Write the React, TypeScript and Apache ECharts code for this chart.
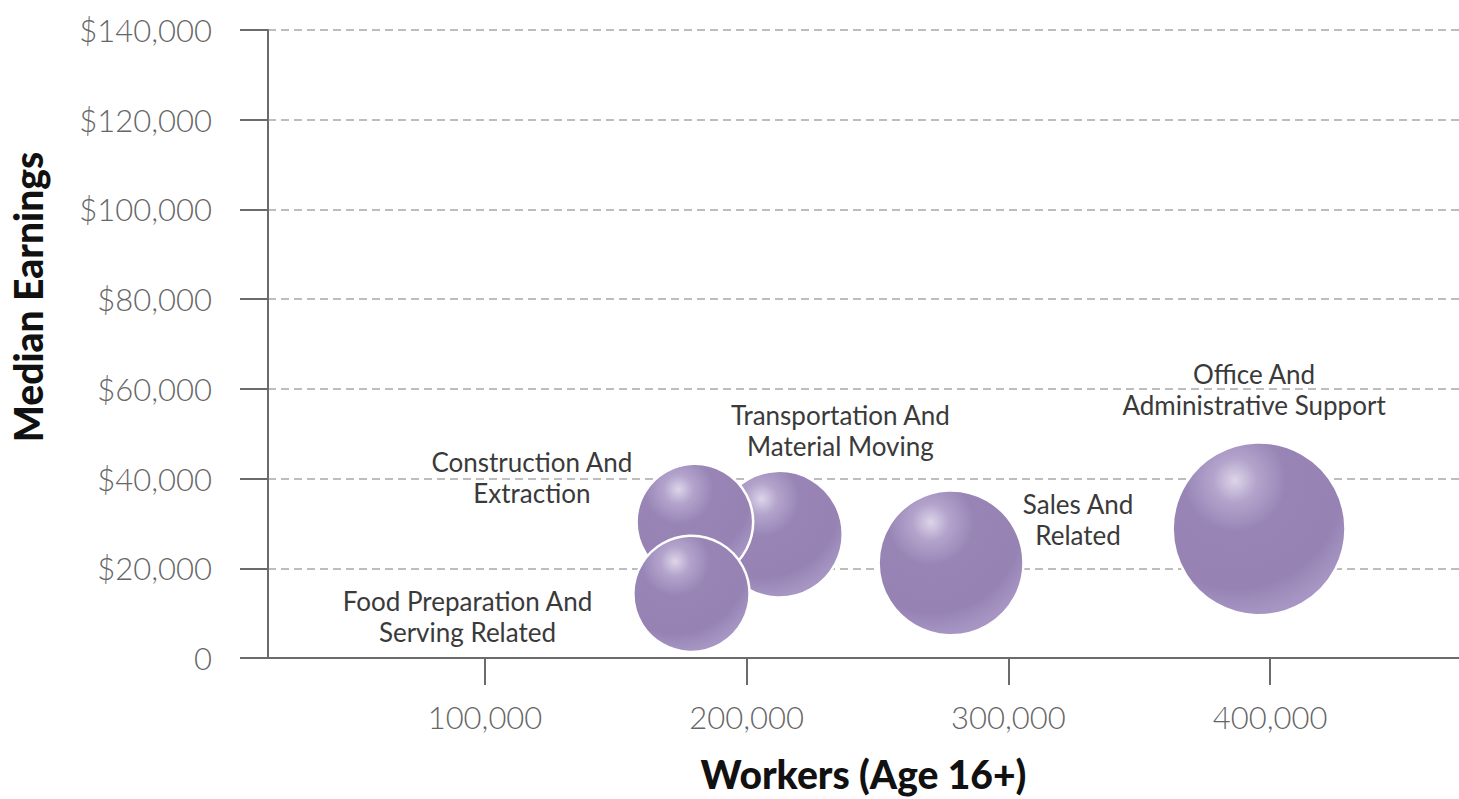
import React, { useEffect, useRef } from "react";
import * as echarts from "echarts";

const occupations = [
  "Transportation And\nMaterial Moving",
  "Construction And\nExtraction",
  "Food Preparation And\nServing Related",
  "Sales And\nRelated",
  "Office And\nAdministrative Support",
];
const workers = [212500, 180200, 178900, 278100, 395800];
const medianEarnings = [27600, 30300, 14300, 21200, 28800];
const labelOffsets: [number, number][] = [
  [61, -104],
  [-163, -45],
  [-224, 23],
  [127, -43],
  [-5, -139],
];
const xTicks = [100000, 200000, 300000, 400000];

const FONT = "Lato, 'Open Sans', sans-serif";

export default function App() {
  const ref = useRef<HTMLDivElement>(null);
  useEffect(() => {
    if (!ref.current) return;
    const chart = echarts.init(ref.current, null, { renderer: "svg" });
    const bubbleFill = new echarts.graphic.RadialGradient(0.36, 0.22, 0.78, [
      { offset: 0, color: "#ddd5e9" },
      { offset: 0.16, color: "#b3a4cc" },
      { offset: 0.38, color: "#9885b6" },
      { offset: 0.8, color: "#9683b4" },
      { offset: 1, color: "#a796c4" },
    ]);
    const data = occupations.map((name, i) => ({
      name,
      value: [workers[i], medianEarnings[i]],
      label: { offset: labelOffsets[i] },
    }));
    chart.setOption({
      animation: false,
      grid: { left: 268, right: 0, top: 30, bottom: 141, containLabel: false },
      xAxis: {
        type: "value",
        min: 17080,
        max: 472200,
        name: "Workers (Age 16+)",
        nameLocation: "middle",
        nameGap: 96,
        nameTextStyle: { fontFamily: FONT, fontWeight: 900, fontSize: 39, color: "#111", verticalAlign: "top" },
        axisLine: { show: true, onZero: false, lineStyle: { color: "#6b6b6b", width: 2 } },
        axisTick: { show: true, length: 27, customValues: xTicks, lineStyle: { color: "#6b6b6b", width: 2 } },
        axisLabel: {
          customValues: xTicks,
          margin: 43,
          fontFamily: FONT,
          fontWeight: 300,
          fontSize: 31,
          color: "#666666",
          formatter: (v: number) => v.toLocaleString("en-US"),
        },
        splitLine: { show: false },
      },
      yAxis: {
        type: "value",
        min: 0,
        max: 140000,
        interval: 20000,
        axisLine: { show: true, lineStyle: { color: "#6b6b6b", width: 2 } },
        axisTick: { show: true, length: 28, lineStyle: { color: "#6b6b6b", width: 2 } },
        axisLabel: {
          margin: 56,
          fontFamily: FONT,
          fontWeight: 300,
          fontSize: 31,
          color: "#666666",
          formatter: (v: number) => (v === 0 ? "0" : "$" + v.toLocaleString("en-US")),
        },
        splitLine: { show: true, lineStyle: { color: "#a8a8a8", type: [8, 5], width: 1.5 } },
      },
      graphic: [
        {
          type: "text",
          x: 28,
          y: 297,
          rotation: Math.PI / 2,
          style: {
            text: "Median Earnings",
            fontFamily: FONT,
            fontWeight: 900,
            fontSize: 39,
            fill: "#111",
            align: "center",
            verticalAlign: "middle",
          },
        },
      ],
      series: [
        {
          type: "scatter",
          data,
          symbol: "circle",
          symbolSize: (val: number[]) => 2 * Math.sqrt(val[0] / 53),
          itemStyle: {
            color: bubbleFill,
            opacity: 1,
            borderColor: "#ffffff",
            borderWidth: 2.5,
          },
          emphasis: { disabled: true },
          label: {
            show: true,
            position: "inside",
            formatter: (p: any) => p.name,
            fontFamily: FONT,
            fontSize: 26,
            lineHeight: 31,
            color: "#3a3a3a",
            align: "center",
            verticalAlign: "middle",
          },
        },
      ],
    });
    return () => chart.dispose();
  }, []);
  return (
    <div
      ref={ref}
      style={{ position: "fixed", left: 0, top: 0, width: 1459, height: 799, background: "#fff" }}
    />
  );
}
